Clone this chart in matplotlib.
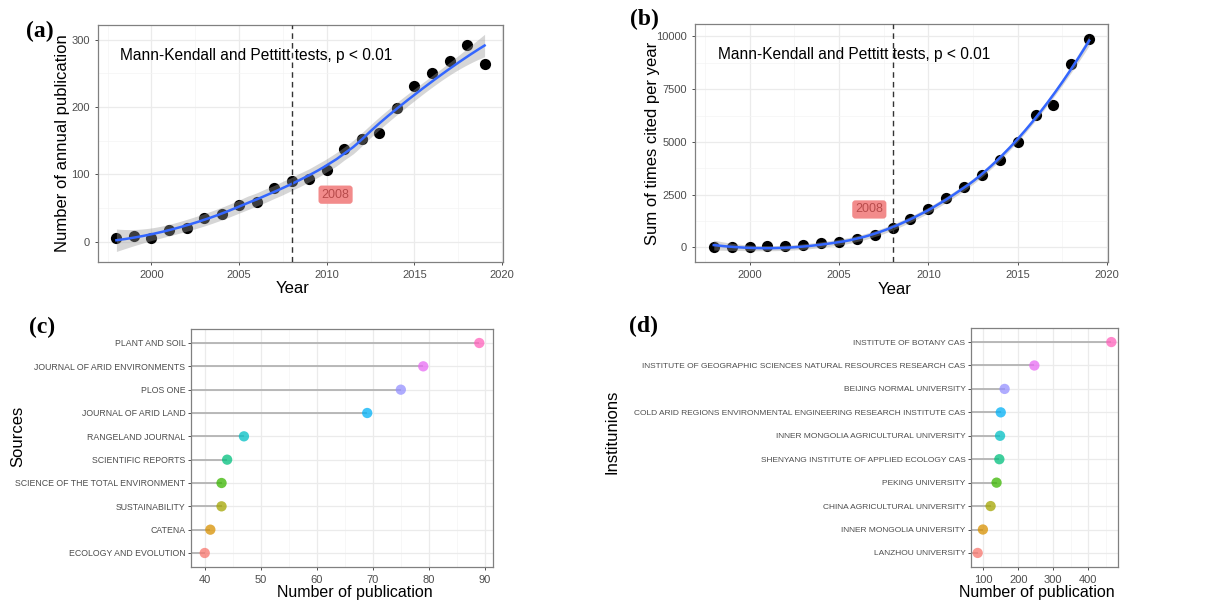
import numpy as np
import matplotlib
matplotlib.use("Agg")
import matplotlib.pyplot as plt
from matplotlib.ticker import MultipleLocator

plt.rcParams['font.family'] = ['Liberation Sans', 'DejaVu Sans']

# ---- data ----
years = np.arange(1998, 2020)
pubs = [5, 8, 5, 17, 21, 36, 41, 54, 59, 80, 90, 94, 107, 138, 152, 162,
        199, 232, 251, 269, 292, 264]
cites = [20, 30, 30, 47, 60, 94, 188, 235, 392, 580, 925, 1364, 1834, 2335,
         2853, 3448, 4138, 4984, 6270, 6771, 8715, 9890]

sources = ["ECOLOGY AND EVOLUTION", "CATENA", "SUSTAINABILITY",
           "SCIENCE OF THE TOTAL ENVIRONMENT", "SCIENTIFIC REPORTS",
           "RANGELAND JOURNAL", "JOURNAL OF ARID LAND", "PLOS ONE",
           "JOURNAL OF ARID ENVIRONMENTS", "PLANT AND SOIL"]
source_n = [40, 41, 43, 43, 44, 47, 69, 75, 79, 89]

insts = ["LANZHOU UNIVERSITY", "INNER MONGOLIA UNIVERSITY",
         "CHINA AGRICULTURAL UNIVERSITY", "PEKING UNIVERSITY",
         "SHENYANG INSTITUTE OF APPLIED ECOLOGY CAS",
         "INNER MONGOLIA AGRICULTURAL UNIVERSITY",
         "COLD ARID REGIONS ENVIRONMENTAL ENGINEERING RESEARCH INSTITUTE CAS",
         "BEIJING NORMAL UNIVERSITY",
         "INSTITUTE OF GEOGRAPHIC SCIENCES NATURAL RESOURCES RESEARCH CAS",
         "INSTITUTE OF BOTANY CAS"]
inst_n = [84, 99, 121, 138, 146, 148, 150, 161, 246, 466]

hue = ["#F8766D", "#D89000", "#A3A500", "#39B600", "#00BF7D",
       "#00BFC4", "#00B0F6", "#9590FF", "#E76BF3", "#FF62BC"]


def loess_rows(x, xs, span=0.75):
    # local quadratic loess weights, like R's default
    n = len(x)
    q = int(np.floor(n * span))
    rows = []
    for x0 in xs:
        d = np.abs(x - x0)
        h = np.sort(d)[q - 1]
        w = np.clip(1 - (d / h) ** 3, 0, None) ** 3
        X = np.column_stack([np.ones(n), x - x0, (x - x0) ** 2])
        A = X.T @ (w[:, None] * X)
        rows.append(np.linalg.solve(A, (X * w[:, None]).T)[0])
    return np.array(rows)


def smooth(x, y, xs):
    x = np.asarray(x, float)
    y = np.asarray(y, float)
    L = loess_rows(x, x)
    res = y - L @ y
    M = np.eye(len(x)) - L
    sigma = np.sqrt(np.sum(res ** 2) / np.trace(M.T @ M))
    Ls = loess_rows(x, xs)
    fit = Ls @ y
    se = sigma * np.sqrt(np.sum(Ls ** 2, axis=1))
    return fit, fit - 2.1 * se, fit + 2.1 * se


W, H = 1215, 603
fig = plt.figure(figsize=(W / 100, H / 100), dpi=100)


def box(l, t, r, b):
    return fig.add_axes([l / W, 1 - b / H, (r - l) / W, (b - t) / H])


def style(ax):
    for s in ax.spines.values():
        s.set_color("#808080")
        s.set_linewidth(0.9)
    ax.tick_params(which="major", color="#333333", labelcolor="#4d4d4d",
                   length=2.5, width=0.6, labelsize=8)
    ax.tick_params(which="minor", length=0)
    ax.grid(which="major", color="#ebebeb", lw=0.9)
    ax.grid(which="minor", color="#f4f4f4", lw=0.5)
    ax.set_axisbelow(True)


def trend(ax, y, ylabel, label_xy, ymaj, ymin):
    xs = np.linspace(years[0], years[-1], 200)
    fit, lo, hi = smooth(years, y, xs)
    ax.scatter(years, y, s=65, color="black", zorder=2, lw=0)
    ax.fill_between(xs, lo, hi, color="#999999", alpha=0.4, lw=0, zorder=3)
    ax.plot(xs, fit, color="#3366FF", lw=1.8, zorder=4)
    ax.axvline(2008, color="#333333", ls=(0, (4, 3)), lw=1, zorder=5)
    ax.text(0.055, 0.873, "Mann-Kendall and Pettitt tests, p < 0.01",
            transform=ax.transAxes, fontsize=11.2, ha="left", va="center")
    ax.text(label_xy[0], label_xy[1], "2008", fontsize=9, color="#b84c4c",
            ha="center", va="center", zorder=6,
            bbox=dict(boxstyle="round,pad=0.25", fc="#f28b8b", ec="none"))
    ax.set_xlim(1996.95, 2020.05)
    ax.xaxis.set_major_locator(MultipleLocator(5))
    ax.xaxis.set_minor_locator(MultipleLocator(2.5))
    ax.yaxis.set_major_locator(MultipleLocator(ymaj))
    ax.yaxis.set_minor_locator(MultipleLocator(ymin))
    ax.set_xlabel("Year", fontsize=12)
    ax.set_ylabel(ylabel, fontsize=12)
    style(ax)


ax_a = box(98, 25, 503, 262)
trend(ax_a, pubs, "Number of annual publication", (2010.5, 70), 100, 50)
ax_a.set_ylim(-30, 322)
ax_a.yaxis.set_label_coords(-0.069, 0.5)
ax_a.xaxis.set_label_coords(0.481, -0.082)

ax_b = box(695, 24, 1108, 262)
trend(ax_b, cites, "Sum of times cited per year", (2006.7, 1800), 2500, 1250)
ax_b.set_ylim(-690, 10590)
ax_b.yaxis.set_label_coords(-0.085, 0.5)
ax_b.xaxis.set_label_coords(0.484, -0.082)


def lolli(ax, names, vals, ylabel, xlim, xmaj, xmin, fs):
    pos = np.arange(len(names))
    ax.set_xlim(*xlim)
    ax.hlines(pos, xlim[0], vals, color="#b3b3b3", lw=1.3, zorder=2)
    ax.scatter(vals, pos, s=55, color=hue, alpha=0.75, lw=0, zorder=3)
    ax.set_ylim(-0.6, len(names) - 0.4)
    ax.set_yticks(pos)
    ax.set_yticklabels(names)
    ax.xaxis.set_major_locator(MultipleLocator(xmaj))
    ax.xaxis.set_minor_locator(MultipleLocator(xmin))
    ax.set_xlabel("Number of publication", fontsize=11.5)
    ax.set_ylabel(ylabel, fontsize=12)
    style(ax)
    ax.tick_params(axis="y", labelsize=fs, pad=1.5)


ax_c = box(191, 329, 493, 567)
lolli(ax_c, sources, source_n, "Sources", (37.55, 91.45), 10, 5, 6.3)
ax_c.yaxis.set_label_coords(-0.55, 0.55)
ax_c.xaxis.set_label_coords(0.543, -0.075)

ax_d = box(971, 328, 1118, 567)
lolli(ax_d, insts, inst_n, "Institunions", (65, 485), 100, 50, 6.0)
ax_d.yaxis.set_label_coords(-2.39, 0.565)
ax_d.xaxis.set_label_coords(0.449, -0.075)

for lab, x, y in [("(a)", 26, 31), ("(b)", 630, 19), ("(c)", 29, 327),
                  ("(d)", 629, 326)]:
    fig.text(x / W, 1 - y / H, lab, family="Liberation Serif",
             weight="bold", fontsize=17, ha="left", va="center")

fig.savefig("out.png", dpi=100)
